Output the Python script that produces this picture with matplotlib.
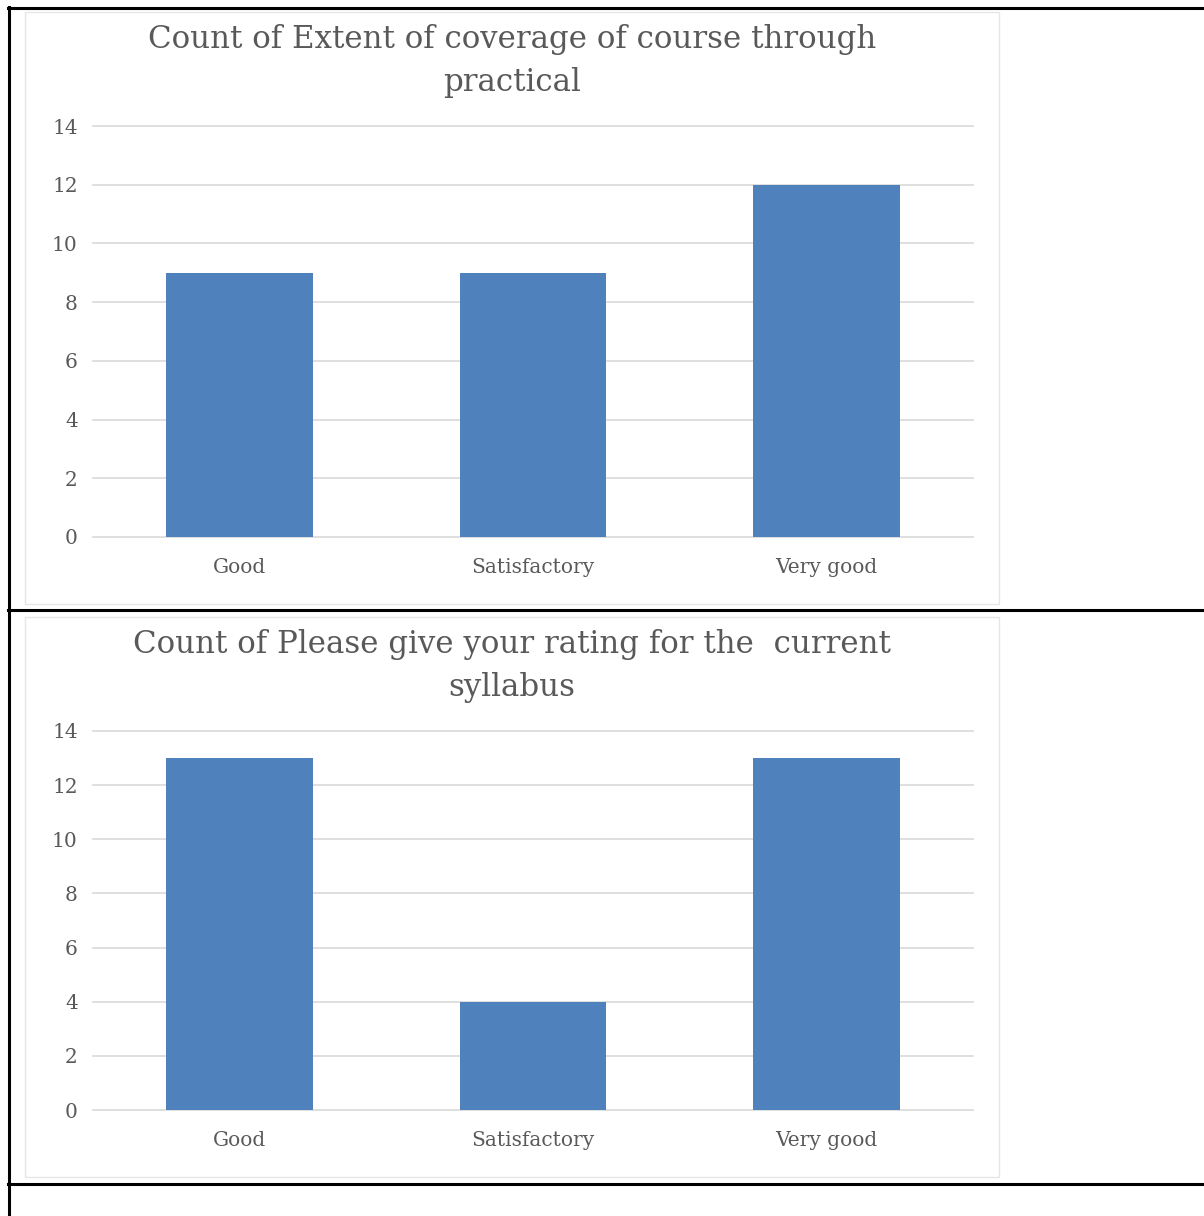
import matplotlib
matplotlib.use('Agg')
import matplotlib.pyplot as plt
from matplotlib.lines import Line2D
from matplotlib.patches import Rectangle

# data
categories = ['Good', 'Satisfactory', 'Very good']
practical_counts = [9, 9, 12]
syllabus_counts = [13, 4, 13]
titles = [['Count of Extent of coverage of course through', 'practical'],
          ['Count of Please give your rating for the  current', 'syllabus']]
yticks = [0, 2, 4, 6, 8, 10, 12, 14]

W, H = 1204, 1216
bar_color = '#4F81BD'
grid_color = '#D9D9D9'
text_color = '#595959'
font = 'DejaVu Serif'

fig = plt.figure(figsize=(W / 100, H / 100), dpi=100)


def fx(px):
    return px / W


def fy(py):
    return 1 - py / H


# outer table borders
for y in [8, 609.5, 1183.5]:
    fig.add_artist(Line2D([fx(8), 1], [fy(y), fy(y)], color='black', lw=2.2))
fig.add_artist(Line2D([fx(9), fx(9)], [fy(7), 0], color='black', lw=2.2))

# chart area frames
for top, bottom in [(12, 604), (617, 1177)]:
    fig.add_artist(Rectangle((fx(25), fy(bottom)), fx(999 - 25), (bottom - top) / H,
                             fill=False, edgecolor='#E6E6E6', lw=1))


def draw_chart(top_px, bottom_px, counts, title, baselines):
    ax = fig.add_axes([fx(93), fy(bottom_px), fx(973 - 93), (bottom_px - top_px) / H])
    ax.bar(categories, counts, width=0.5, color=bar_color, zorder=3)
    ax.set_ylim(0, 14)
    ax.set_xlim(-0.5, 2.5)
    ax.set_yticks(yticks)
    ax.yaxis.grid(True, color=grid_color, lw=1.2, zorder=0)
    for gl in ax.get_ygridlines():
        gl.set_clip_on(False)
    for s in ax.spines.values():
        s.set_visible(False)
    ax.tick_params(axis='both', length=0, colors=text_color, labelsize=14.5)
    ax.tick_params(axis='y', pad=11)
    ax.tick_params(axis='x', pad=15)
    for lab in ax.get_xticklabels() + ax.get_yticklabels():
        lab.set_fontfamily(font)
    for line, b in zip(title, baselines):
        fig.text(fx(512), fy(b), line, ha='center', va='baseline', fontsize=22.2,
                 color=text_color, family=font)
    return ax


draw_chart(126, 537, practical_counts, titles[0], [48, 91])
draw_chart(731, 1110, syllabus_counts, titles[1], [653, 696])

fig.savefig('out.png', dpi=100, facecolor='white')
